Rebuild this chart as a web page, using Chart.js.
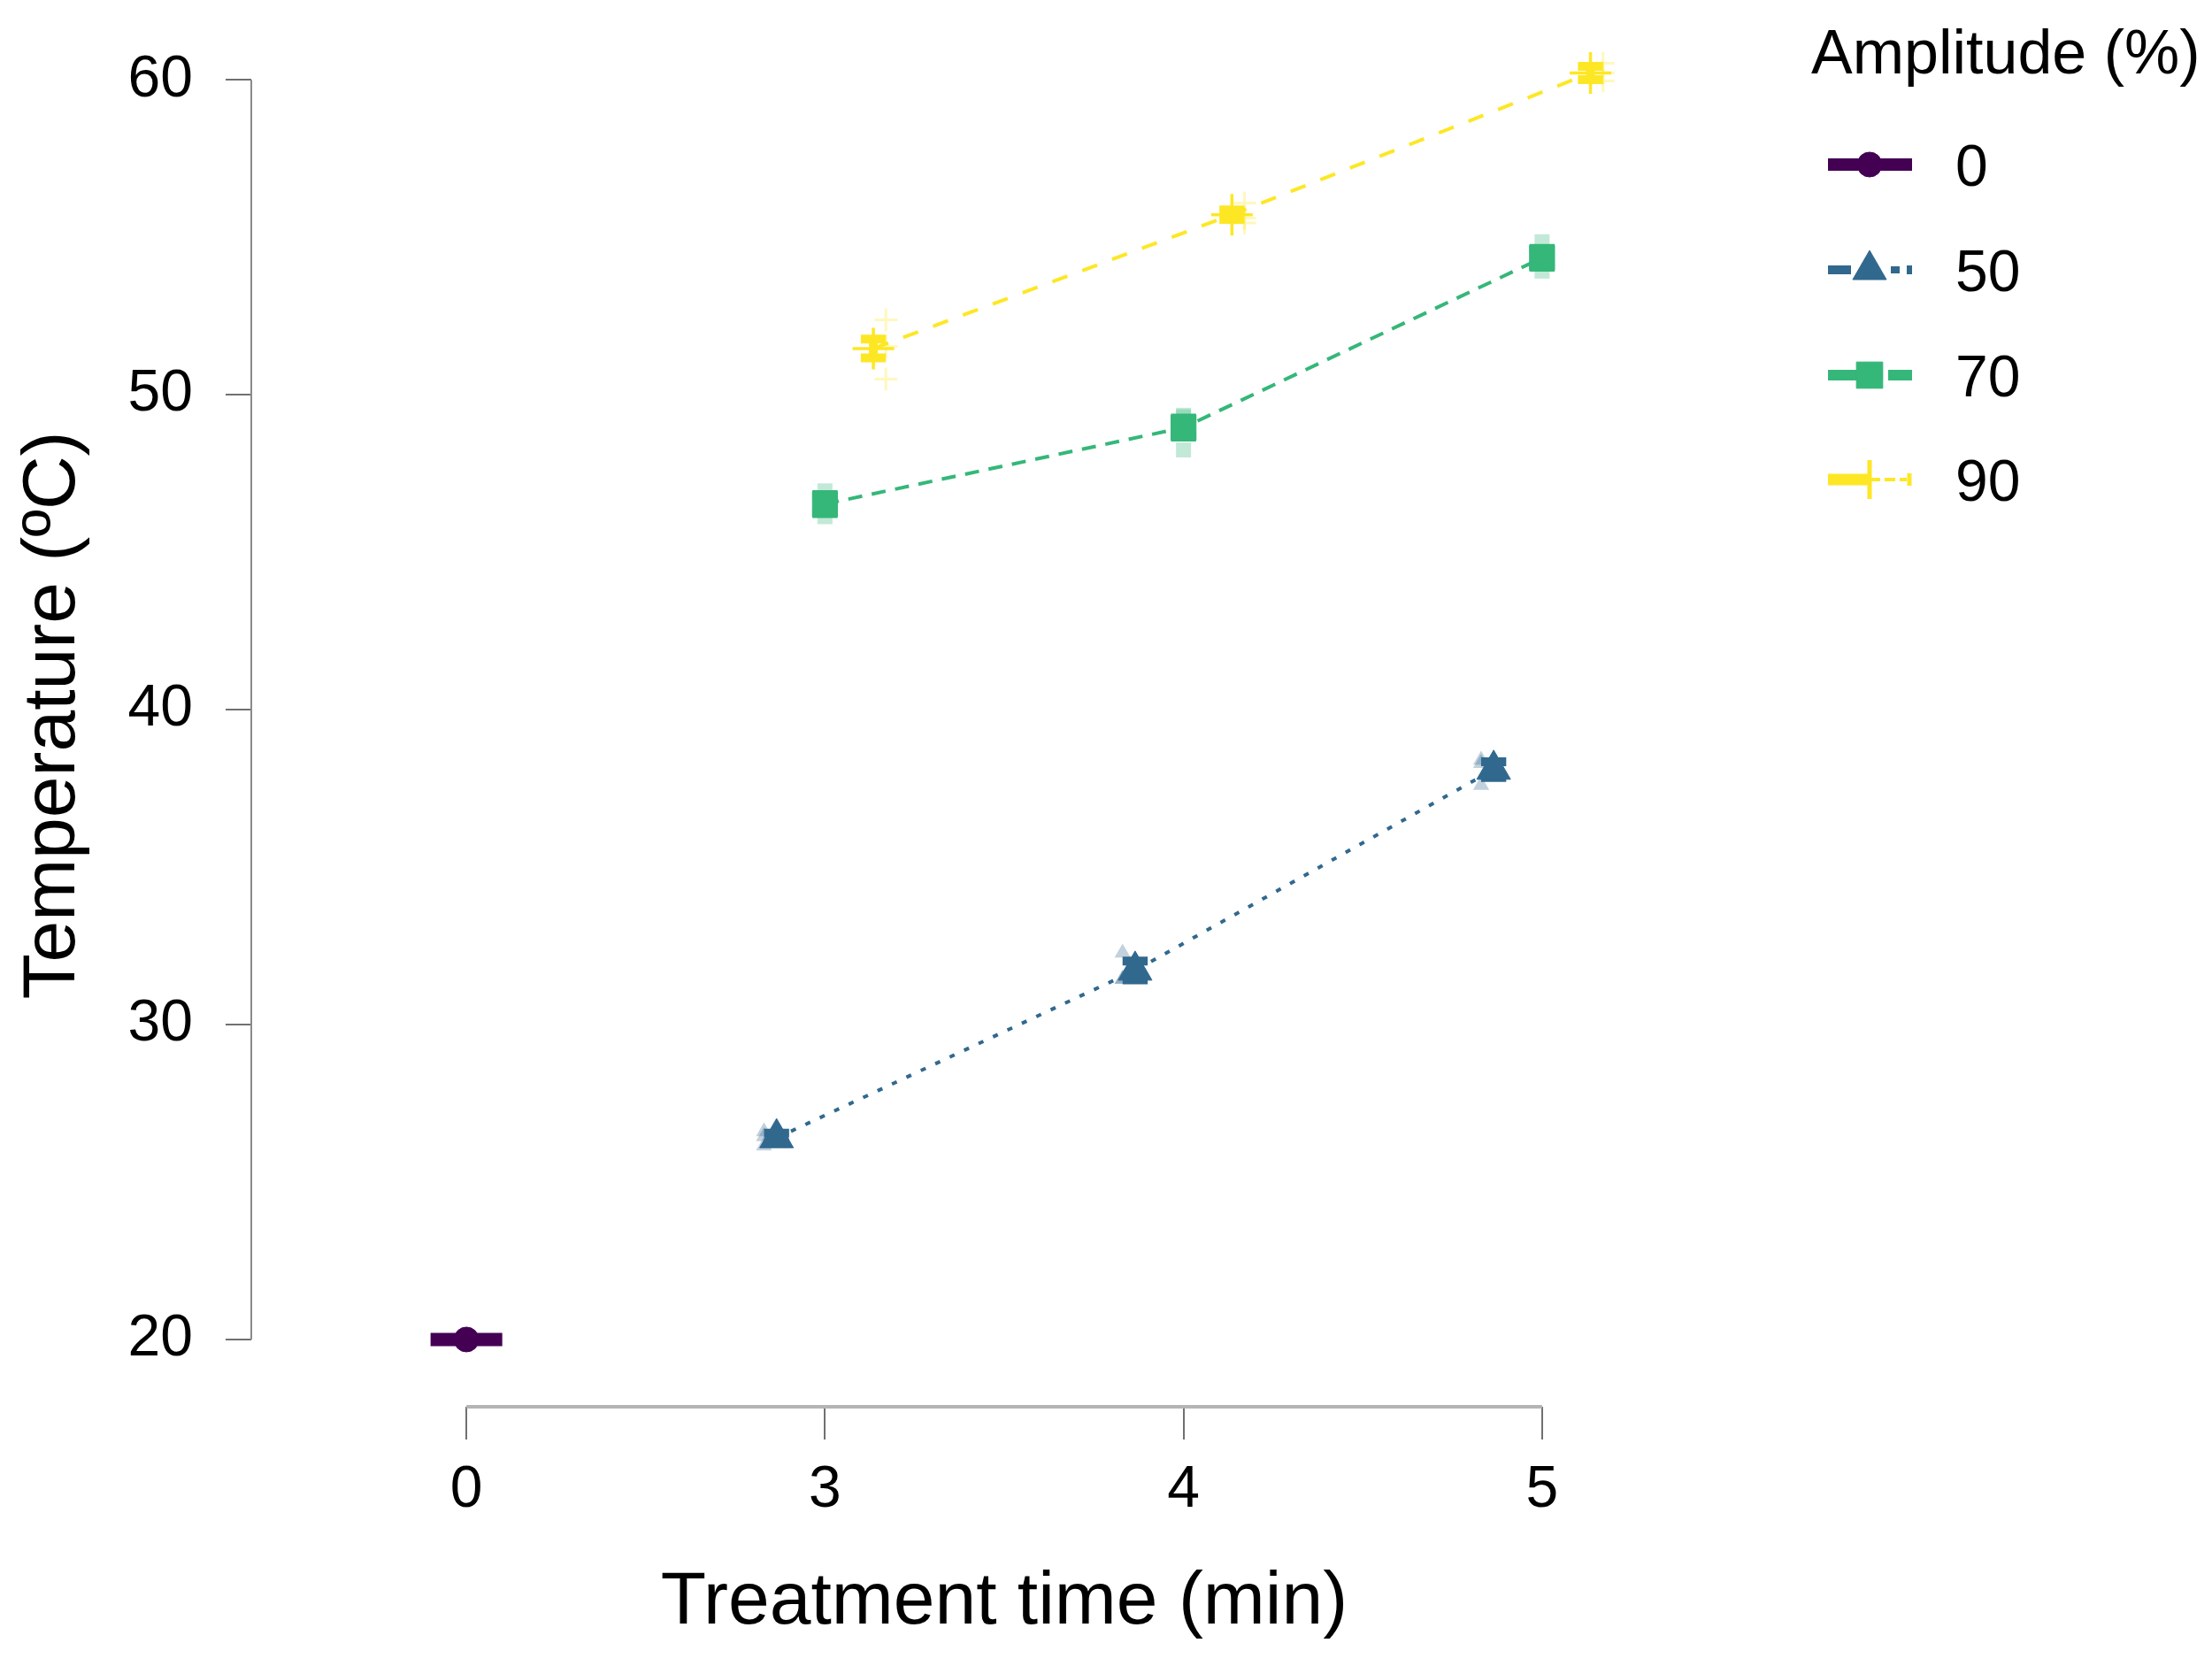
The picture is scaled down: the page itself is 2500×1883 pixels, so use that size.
<!DOCTYPE html>
<html>
<head>
<meta charset="utf-8">
<script src="https://cdn.jsdelivr.net/npm/chart.js@4.4.1/dist/chart.umd.min.js"></script>
<style>
  html, body { margin: 0; padding: 0; background: #fff; }
  #wrap { width: 2500px; height: 1883px; position: relative; }
</style>
</head>
<body>
<div id="wrap"><canvas id="myChart"></canvas></div>
<script>
// categories on the x axis (treatment time, min)
var times = ["0", "3", "4", "5"];
var amplitudes = ["0", "50", "70", "90"];

// times at which each amplitude was measured
var time0 = ["0"];
var time50 = ["3", "4", "5"];
var time70 = ["3", "4", "5"];
var time90 = ["3", "4", "5"];

// mean temperature (ºC)
var temp0 = [20.0];
var temp50 = [26.4, 31.72, 38.1];
var temp70 = [46.53, 48.96, 54.35];
var temp90 = [51.47, 55.72, 60.22];

// half length of the error bars
var err0 = [0.07];
var err50 = [0.15, 0.3, 0.25];
var err70 = [0.3, 0.3, 0.3];
var err90 = [0.3, 0.15, 0.21];

// replicate readings, one list per time
var rep0 = [[20.0, 20.0, 20.0]];
var rep50 = [[26.6, 26.15, 26.45], [32.28, 31.44, 31.45], [38.3, 37.6, 38.4]];
var rep70 = [[46.95, 46.13, 46.5], [49.3, 48.25, 49.35], [54.86, 53.93, 54.26]];
var rep90 = [[52.38, 51.54, 50.5], [56.09, 55.61, 55.46], [60.53, 60.22, 59.97]];

var yTicks = [20, 30, 40, 50, 60];

var colors = ["#440154", "#31688E", "#35B779", "#FDE725"];
var fadeColors = ["rgba(68,1,84,0.3)", "rgba(49,104,142,0.3)", "rgba(53,183,121,0.3)", "rgba(253,231,37,0.3)"];
var styles = ["circle", "triangle", "rect", "cross"];
var dashes = [[], [6, 12], [16, 11], [18, 18]];
var dodge = [0, -0.135, 0, 0.135];
var repDodge = [0, -0.17, 0, 0.17];
var capWidth = [0.2, 0.07, 0.07, 0.07];
var radius = [14, 22, 20, 23.5];
var repRadius = [12, 10.5, 12, 13];

var series = [
  { t: time0, v: temp0, e: err0, r: rep0 },
  { t: time50, v: temp50, e: err50, r: rep50 },
  { t: time70, v: temp70, e: err70, r: rep70 },
  { t: time90, v: temp90, e: err90, r: rep90 }
];

Chart.defaults.font.family = "'Liberation Sans', Arial, sans-serif";
Chart.defaults.color = "#000";

var datasets = [];
series.forEach(function (s, k) {
  var reps = [];
  s.t.forEach(function (t, i) {
    s.r[i].forEach(function (val) {
      reps.push({ x: times.indexOf(t) + repDodge[k], y: val });
    });
  });
  datasets.push({
    label: amplitudes[k] + " raw",
    data: reps,
    showLine: false,
    pointStyle: styles[k],
    pointRadius: repRadius[k],
    pointBackgroundColor: fadeColors[k],
    pointBorderColor: fadeColors[k],
    pointBorderWidth: k == 3 ? 3 : 0,
    order: 1,
    clip: false
  });
  datasets.push({
    label: amplitudes[k],
    data: s.t.map(function (t, i) { return { x: times.indexOf(t) + dodge[k], y: s.v[i] }; }),
    borderColor: colors[k],
    borderWidth: 4,
    borderDash: dashes[k],
    pointStyle: styles[k],
    pointRadius: radius[k],
    pointBackgroundColor: colors[k],
    pointBorderColor: colors[k],
    pointBorderWidth: k == 3 ? 3.5 : 1,
    errs: s.e,
    cap: capWidth[k],
    order: 0,
    clip: false
  });
});

// error bars drawn just under each mean series
var errorBars = {
  id: 'errorBars',
  beforeDatasetDraw: function (chart, args) {
    var ds = chart.data.datasets[args.index];
    if (!ds.errs) return;
    var ctx = chart.ctx, x = chart.scales.x, y = chart.scales.y;
    ctx.save();
    ctx.setLineDash([]);
    ctx.strokeStyle = ds.borderColor;
    ds.data.forEach(function (p, i) {
      var px = x.getPixelForValue(p.x);
      var hw = x.getPixelForValue(p.x + ds.cap / 2) - px;
      var top = y.getPixelForValue(p.y + ds.errs[i]);
      var bot = y.getPixelForValue(p.y - ds.errs[i]);
      ctx.lineWidth = 10;
      ctx.beginPath();
      ctx.moveTo(px, top); ctx.lineTo(px, bot);
      ctx.moveTo(px - hw, top); ctx.lineTo(px + hw, top);
      ctx.moveTo(px - hw, bot); ctx.lineTo(px + hw, bot);
      ctx.stroke();
    });
    ctx.restore();
  }
};

// base-R style axis lines, only over the tick range
var axisLines = {
  id: 'axisLines',
  afterDraw: function (chart) {
    var ctx = chart.ctx, x = chart.scales.x, y = chart.scales.y, a = chart.chartArea;
    ctx.save();
    ctx.strokeStyle = "#8a8a8a";
    ctx.lineWidth = 2;
    ctx.beginPath();
    ctx.moveTo(a.left, y.getPixelForValue(yTicks[0]));
    ctx.lineTo(a.left, y.getPixelForValue(yTicks[yTicks.length - 1]));
    ctx.stroke();
    ctx.strokeStyle = "#b4b4b4";
    ctx.lineWidth = 4;
    ctx.beginPath();
    ctx.moveTo(x.getPixelForValue(0), a.bottom);
    ctx.lineTo(x.getPixelForValue(times.length - 1), a.bottom);
    ctx.stroke();
    ctx.restore();
  }
};

var legendBox = {
  id: 'legendBox',
  afterDraw: function (chart) {
    var ctx = chart.ctx;
    var x0 = 2066, x1 = 2161, xm = 2113;
    var rows = [186, 305, 424, 542];
    ctx.save();
    ctx.fillStyle = "#000";
    ctx.font = "70px 'Liberation Sans', Arial, sans-serif";
    ctx.textBaseline = "alphabetic";
    ctx.fillText("Amplitude (%)", 2047, 83);
    ctx.font = "66px 'Liberation Sans', Arial, sans-serif";
    amplitudes.forEach(function (lab, k) {
      var cy = rows[k];
      ctx.fillStyle = "#000";
      ctx.fillText(lab, 2210, cy + 24);
      ctx.strokeStyle = colors[k];
      ctx.fillStyle = colors[k];
      ctx.setLineDash([]);
      function seg(a, b, w) {
        ctx.lineWidth = w;
        ctx.beginPath(); ctx.moveTo(a, cy); ctx.lineTo(b, cy); ctx.stroke();
      }
      if (k == 0) {
        seg(x0, x1, 14);
      } else if (k == 1) {
        seg(x0, 2092, 10); seg(2137, 2147, 8); seg(2155, x1, 10);
      } else if (k == 2) {
        seg(x0, 2128, 12); seg(2134, x1, 12);
      } else {
        seg(x0, xm, 13);
        ctx.setLineDash([12, 5]); seg(xm, 2155, 4); ctx.setLineDash([]);
        ctx.lineWidth = 5;
        ctx.beginPath(); ctx.moveTo(2158, cy - 7); ctx.lineTo(2158, cy + 7); ctx.stroke();
        ctx.beginPath(); ctx.moveTo(xm, cy - 22); ctx.lineTo(xm, cy + 22); ctx.stroke();
      }
      if (k < 3) {
        ctx.lineWidth = 1;
        Chart.helpers.drawPoint(ctx, { pointStyle: styles[k], radius: k == 2 ? 21 : radius[k], borderWidth: 1, rotation: 0 }, xm, cy);
      }
    });
    ctx.restore();
  }
};

new Chart("myChart", {
  type: "line",
  data: { datasets: datasets },
  options: {
    responsive: true,
    maintainAspectRatio: false,
    animation: false,
    events: [],
    layout: { padding: { left: 0, right: 514, top: 4, bottom: 0 } },
    plugins: {
      legend: { display: false },
      tooltip: { enabled: false }
    },
    scales: {
      x: {
        type: "linear",
        min: -0.6,
        max: 3.6,
        border: { display: false },
        grid: { drawOnChartArea: false, drawTicks: true, tickLength: 37, color: "#707070", lineWidth: 2 },
        ticks: {
          stepSize: 1,
          includeBounds: false,
          padding: 18,
          font: { size: 66 },
          color: "#000",
          callback: function (v) { return times[v]; }
        },
        title: { display: true, text: "Treatment time (min)", font: { size: 84 }, color: "#000", padding: { top: 0, bottom: 21 } },
        afterFit: function (s) { s.height = 293; s.paddingLeft = 0; s.paddingRight = 0; }
      },
      y: {
        type: "linear",
        min: 17.864,
        max: 61.78,
        border: { display: false },
        grid: { drawOnChartArea: false, drawTicks: true, tickLength: 29, color: "#707070", lineWidth: 2 },
        ticks: { stepSize: 10, includeBounds: false, padding: 37, font: { size: 66 }, color: "#000" },
        title: { display: true, text: "Temperature (ºC)", font: { size: 84 }, color: "#000", padding: { top: 10, bottom: 0 } },
        afterFit: function (s) { s.width = 284; s.paddingTop = 0; s.paddingBottom = 0; }
      }
    }
  },
  plugins: [errorBars, axisLines, legendBox]
});
</script>
</body>
</html>
